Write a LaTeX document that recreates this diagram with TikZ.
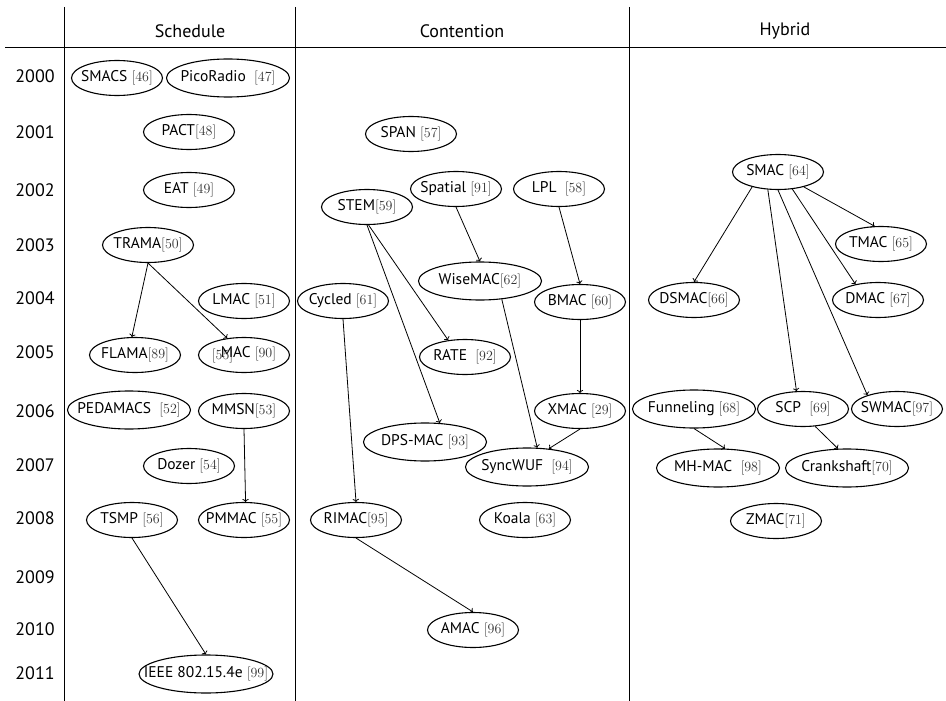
\documentclass[tikz,border=0pt]{standalone}
\usepackage{fontspec}
\setsansfont{PT Sans}
\usepackage{tikz}
\usetikzlibrary {arrows.meta,
                 positioning,
                 shapes.geometric}
\newcommand{\refno}[1]{{\rmfamily\fontsize{14}{16}\selectfont\color{black!80}[#1]}}
\tikzset{
        base/.style={font=\sffamily\fontsize{18}{21}\selectfont},
        mac/.style={draw, ellipse, line width=1.1pt, inner sep=0pt,
                    font=\sffamily\fontsize{15.5}{18}\selectfont,
                    minimum width=91pt, minimum height=35pt,
                    execute at begin node={\hbox to 0pt\bgroup\hss},
                    execute at end node={\hss\egroup}},
        widemac/.style={mac, minimum width=123pt, minimum height=38pt},
        year/.style={base},
        grid/.style={line width=1pt},
        myarrow/.style={-{To[length=3pt]}, line width=0.8pt},
 }

\begin{document}
\begin{tikzpicture}[x=1pt,y=-1pt]
    \useasboundingbox (0,0) rectangle (946,701);
    % table lines
    \draw[grid] (5,48) -- (946,48);
    \draw[grid] (64,7) -- (64,701);
    \draw[grid] (295,7) -- (295,701);
    \draw[grid] (629,7) -- (629,701);

    \node[base] (schedule) at (190,31) {Schedule};
    \node[base] (contention) at (462,31) {Contention};
    \node[base] (hybrid) at (785,31) {Hybrid};

    \foreach \yr/\y in {2000/76, 2001/132, 2002/190, 2003/245, 2004/298,
                        2005/352, 2006/411, 2007/465, 2008/518, 2009/577,
                        2010/629, 2011/673}
        \node[year] (y\yr) at (35,\y) {\yr};

    % Schedule
    \node[mac] (smacs) at (117,78) {SMACS \refno{46}};
    \node[widemac] (picoradio) at (228,78) {PicoRadio \ \refno{47}};
    \node[mac] (pact) at (189,132) {PACT\refno{48}};
    \node[mac] (eat) at (189,190) {EAT \refno{49}};
    \node[mac] (trama) at (148,245) {TRAMA\refno{50}};
    \node[mac] (lmac) at (244,301) {LMAC \refno{51}};
    \node[mac] (flama) at (135,355) {FLAMA\refno{89}};
    \node[mac] (mumac) at (244,355)
        {\rlap{\raisebox{-2pt}{\refno{55}}}\hspace{9pt}MAC \refno{90}};
    \node[widemac] (pedamacs) at (129,410) {PEDAMACS \ \refno{52}};
    \node[mac] (mmsn) at (244,411) {MMSN\refno{53}};
    \node[mac] (dozer) at (189,466) {Dozer \refno{54}};
    \node[mac] (tsmp) at (132,520) {TSMP \refno{56}};
    \node[mac] (pmmac) at (244,520) {PMMAC \refno{55}};
    \node[widemac, minimum width=134pt] (ieee) at (206,674)
        {IEEE 802.15.4e \refno{99}};

    \draw[myarrow] (trama.south) -- (flama.100);
    \draw[myarrow] (trama.south) -- (mumac.135);
    \draw[myarrow] (mmsn.south) -- (pmmac.85);
    \draw[myarrow] (tsmp.south) -- (ieee.north);

    % Contention
    \node[mac] (span) at (411,134) {SPAN \refno{57}};
    \node[mac] (spatial) at (456,189) {Spatial \refno{91}};
    \node[mac] (lpl) at (559,189) {LPL \ \refno{58}};
    \node[mac] (stem) at (367,207) {STEM\refno{59}};
    \node[widemac] (wisemac) at (480,281) {WiseMAC\refno{62}};
    \node[mac] (cycled) at (343,301) {Cycled \refno{61}};
    \node[mac] (bmac) at (580,302) {BMAC \refno{60}};
    \node[mac] (rate) at (465,357) {RATE \ \refno{92}};
    \node[mac] (xmac) at (580,411) {XMAC \refno{29}};
    \node[widemac] (dpsmac) at (425,442) {DPS-MAC \refno{93}};
    \node[widemac] (syncwuf) at (527,467) {SyncWUF \ \refno{94}};
    \node[mac] (rimac) at (356,520) {RIMAC\refno{95}};
    \node[mac] (koala) at (525,520) {Koala \refno{63}};
    \node[mac] (amac) at (473,630) {AMAC \refno{96}};

    \draw[myarrow] (stem.-85) -- (rate.135);
    \draw[myarrow] (stem.south) -- (dpsmac.52);
    \draw[myarrow] (spatial.south) -- (wisemac.north);
    \draw[myarrow] (lpl.south) -- (bmac.north);
    \draw[myarrow] (wisemac.-40) -- (syncwuf.62);
    \draw[myarrow] (bmac.south) -- (xmac.north);
    \draw[myarrow] (xmac.south) -- (syncwuf.40);
    \draw[myarrow] (cycled.south) -- (rimac.north);
    \draw[myarrow] (rimac.south) -- (amac.north);

    % Hybrid
    \node[mac] (smac) at (778,172) {SMAC \refno{64}};
    \node[mac] (tmac) at (881,244) {TMAC \refno{65}};
    \node[mac] (dsmac) at (694,300) {DSMAC\refno{66}};
    \node[mac] (dmac) at (878,300) {DMAC \refno{67}};
    \node[widemac] (funneling) at (694,409) {Funneling \refno{68}};
    \node[mac] (scp) at (803,409) {SCP \ \refno{69}};
    \node[mac] (swmac) at (897,409) {SWMAC\refno{97}};
    \node[widemac] (mhmac) at (718,468) {MH-MAC \ \refno{98}};
    \node[widemac] (crankshaft) at (847,468) {Crankshaft\refno{70}};
    \node[mac] (zmac) at (776,521) {ZMAC\refno{71}};

    \draw[myarrow] (smac.-150) -- (dsmac.north);
    \draw[myarrow] (smac.-30) -- (tmac.110);
    \draw[myarrow] (smac.-50) -- (dmac.145);
    \draw[myarrow] (smac.-120) -- (scp.110);
    \draw[myarrow] (smac.south) -- (swmac.155);
    \draw[myarrow] (funneling.south) -- (mhmac.70);
    \draw[myarrow] (scp.-55) -- (crankshaft.115);
\end{tikzpicture}
\end{document}
